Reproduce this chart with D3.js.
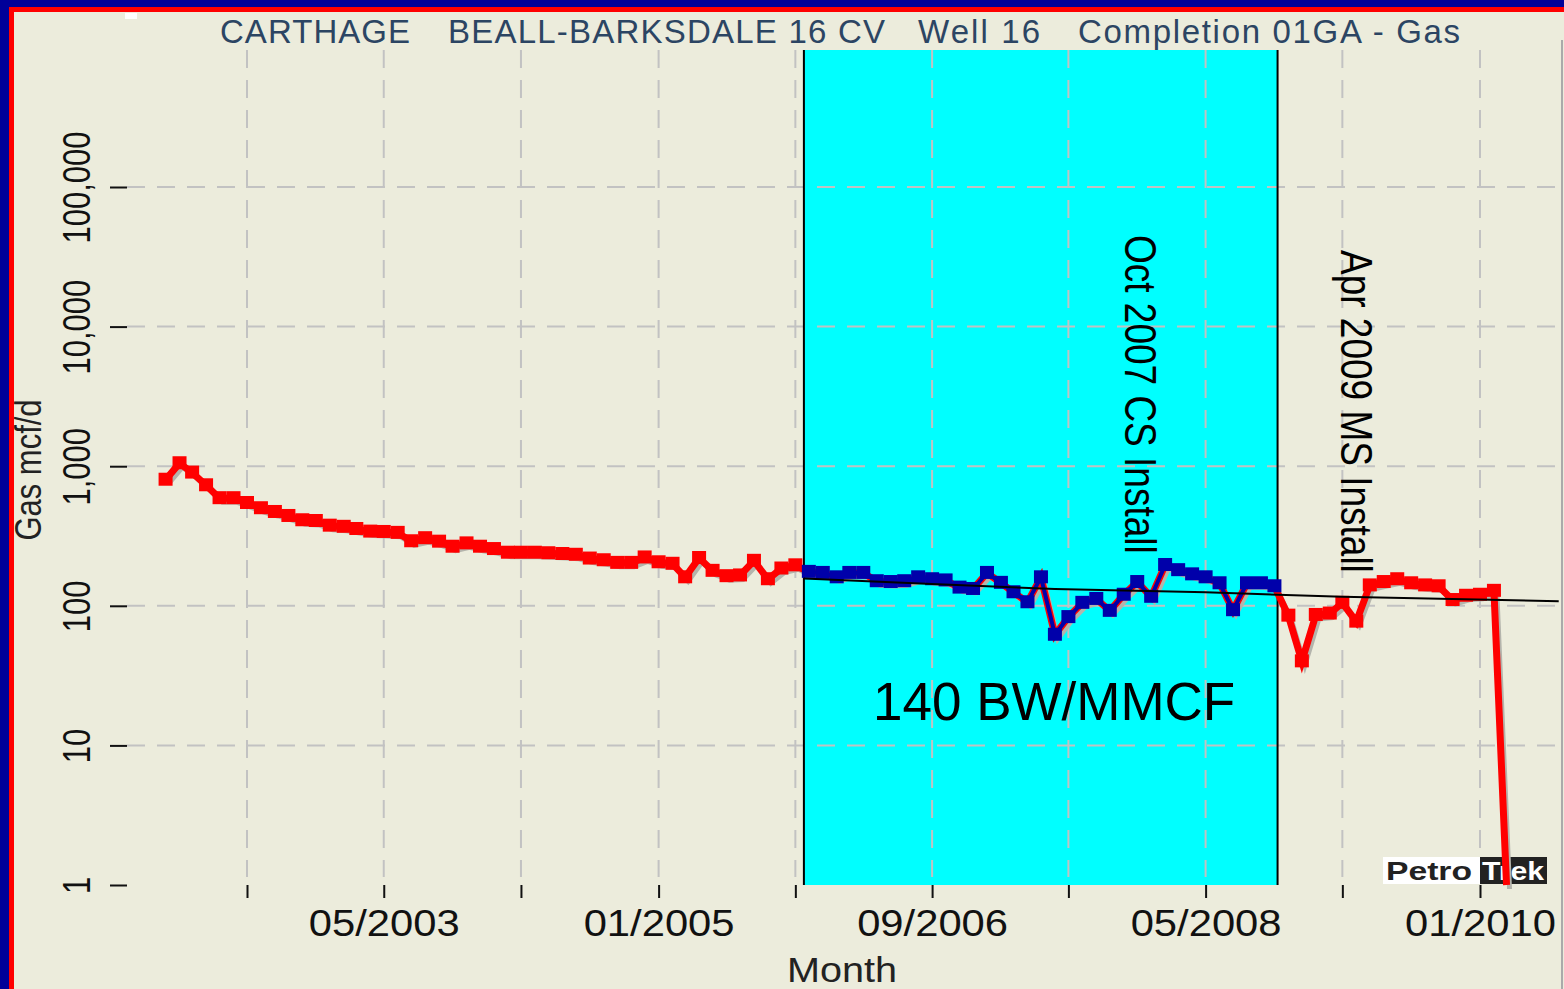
<!DOCTYPE html>
<html>
<head>
<meta charset="utf-8">
<script src="https://cdn.jsdelivr.net/npm/d3@7"></script>
<style>
  body { margin: 0; background: #ececdc; overflow: hidden; }
  svg text { font-family: "Liberation Sans", Arial, sans-serif; }
</style>
</head>
<body>
<script>
// data ______________________________________________________________________
var firstMonth = "2002-01";
// gas rate, mcf/d, one value a month from 01/2002
var gasRate = [800, 1050, 900, 730, 590, 590, 545, 500, 470, 440,
               410, 405, 375, 368, 355, 340, 338, 333, 290, 305,
               288, 265, 280, 265, 255, 240, 240, 240, 238, 235,
               232, 218, 212, 203, 203, 222, 205, 200, 160, 220,
               178, 163, 165, 210, 155, 185, 195, 175, 172, 160,
               172, 172, 150, 148, 150, 160, 155, 152, 135, 132,
               172, 146, 125, 106, 160, 62, 83, 105, 112, 92,
               120, 148, 116, 196, 180, 168, 160, 145, 93, 145,
               145, 138, 85, 40, 86, 88, 105, 77, 140, 148,
               155, 145, 140, 138, 110, 118, 120, 128, 1];

// shaded period
var bandStart = "2005-11-20";
var bandEnd = "2008-10-08";

// decline trend
var trendDates = ["2005-11-20", "2006-09-01", "2007-06-01", "2008-05-01", "2009-03-01", "2010-06-25"];
var trendRate = [157, 143, 132, 125, 116, 108];

var xTicks = ["2002-07", "2003-05", "2004-03", "2005-01", "2005-11", "2006-09", "2007-07", "2008-05", "2009-03", "2010-01"];
var xLabelled = ["2003-05", "2005-01", "2006-09", "2008-05", "2010-01"];
var yTicks = [1, 10, 100, 1000, 10000, 100000];

var titleParts = ["CARTHAGE", "BEALL-BARKSDALE 16 CV", "Well 16", "Completion 01GA - Gas"];
var notes = ["Oct 2007 CS Install", "Apr 2009 MS Install"];

// layout ____________________________________________________________________
var W = 1564, H = 989;
var plot = {left: 127, right: 1560, top: 50, bottom: 885};

var parseM = d3.timeParse("%Y-%m");
var parseD = d3.timeParse("%Y-%m-%d");
var start = parseM(firstMonth);

var data = gasRate.map(function (v, i) {
    return {date: d3.timeMonth.offset(start, i), value: v};
});
var bs = parseD(bandStart), be = parseD(bandEnd);
var trend = trendDates.map(function (d, i) { return {date: parseD(d), value: trendRate[i]}; });

var svg = d3.select("body").append("svg")
    .attr("width", W)
    .attr("height", H);

svg.append("rect").attr("width", W).attr("height", H).attr("fill", "#ececdc");

// scales
var x = d3.scaleTime()
    .domain([parseM("2002-07"), parseM("2010-01")])
    .range([247, 1480]);

var y = d3.scaleLog()
    .domain([1, 100000])
    .range([plot.bottom, 187]);

// shaded band
svg.append("rect")
    .attr("x", x(bs))
    .attr("y", plot.top)
    .attr("width", x(be) - x(bs))
    .attr("height", plot.bottom - plot.top)
    .attr("fill", "#00ffff");

// grid
var grid = svg.append("g")
    .attr("stroke", "#c2c2c2")
    .attr("stroke-width", 2)
    .attr("stroke-dasharray", "18,12");

grid.selectAll("line.h").data(yTicks.filter(function (d) { return d > 1; }))
    .enter().append("line")
    .attr("x1", plot.left).attr("x2", plot.right)
    .attr("y1", function (d) { return y(d); })
    .attr("y2", function (d) { return y(d); });

grid.selectAll("line.v").data(xTicks)
    .enter().append("line")
    .attr("x1", function (d) { return x(parseM(d)); })
    .attr("x2", function (d) { return x(parseM(d)); })
    .attr("y1", plot.top).attr("y2", plot.bottom - 8);

// band edges
svg.selectAll("line.edge").data([bs, be])
    .enter().append("line")
    .attr("x1", function (d) { return x(d); })
    .attr("x2", function (d) { return x(d); })
    .attr("y1", plot.top).attr("y2", plot.bottom)
    .attr("stroke", "#000").attr("stroke-width", 2);

// y axis
var yAxis = d3.axisLeft(y)
    .tickValues(yTicks)
    .tickSize(17)
    .tickPadding(0)
    .tickFormat(d3.format(","));

var gy = svg.append("g")
    .attr("transform", "translate(" + plot.left + ",0)")
    .call(yAxis);
gy.select(".domain").remove();
gy.selectAll("line").attr("stroke", "#111").attr("stroke-width", 2);
gy.selectAll("text")
    .attr("x", null).attr("dy", "0.35em")
    .attr("text-anchor", "middle")
    .attr("font-size", 31)
    .attr("fill", "#111")
    .attr("transform", "translate(-51,0) scale(1.25,1) rotate(-90)");

svg.append("text")
    .attr("transform", "translate(28,470) scale(1.2,1) rotate(-90)")
    .attr("dy", "0.35em")
    .attr("text-anchor", "middle")
    .attr("font-size", 31)
    .attr("fill", "#222")
    .text("Gas mcf/d");

// x axis
var fmt = d3.timeFormat("%m/%Y");
var xAxis = d3.axisBottom(x)
    .tickValues(xTicks.map(parseM))
    .tickSize(13)
    .tickFormat(function (d) {
        return xLabelled.indexOf(d3.timeFormat("%Y-%m")(d)) >= 0 ? fmt(d) : "";
    });

var gx = svg.append("g")
    .attr("transform", "translate(0," + plot.bottom + ")")
    .call(xAxis);
gx.select(".domain").remove();
gx.selectAll("line").attr("stroke", "#111").attr("stroke-width", 2);
gx.selectAll("text")
    .attr("y", 51).attr("dy", null)
    .attr("font-size", 36)
    .attr("fill", "#111")
    .attr("transform", "scale(1.16,1)");

svg.append("text")
    .attr("transform", "translate(842,982) scale(1.1,1)")
    .attr("text-anchor", "middle")
    .attr("font-size", 36)
    .attr("fill", "#222")
    .text("Month");

// logo
var logo = svg.append("g").attr("transform", "translate(1383,857)");
logo.append("rect").attr("width", 97).attr("height", 27).attr("fill", "#fff");
logo.append("rect").attr("x", 97).attr("width", 67).attr("height", 27).attr("fill", "#222");
logo.append("text").attr("x", 3).attr("y", 23).attr("font-size", 26).attr("font-weight", "bold")
    .attr("textLength", 86).attr("lengthAdjust", "spacingAndGlyphs")
    .attr("fill", "#222").text("Petro");
logo.append("text").attr("x", 99).attr("y", 23).attr("font-size", 26).attr("font-weight", "bold")
    .attr("textLength", 62).attr("lengthAdjust", "spacingAndGlyphs")
    .attr("fill", "#fff").text("Trek");

// series
var line = d3.line()
    .x(function (d) { return x(d.date); })
    .y(function (d) { return y(d.value); });

svg.append("path")
    .datum(data)
    .attr("d", line)
    .attr("transform", "translate(3,4)")
    .attr("fill", "none")
    .attr("stroke", "#b4b4ac")
    .attr("stroke-width", 5);

svg.append("path")
    .datum(data)
    .attr("d", line)
    .attr("fill", "none")
    .attr("stroke", "#ff0000")
    .attr("stroke-width", 7);

var inBand = function (d) { return d.date >= bs && d.date <= be; };

svg.selectAll("rect.red").data(data.filter(function (d) { return !inBand(d) && d.value > 1; }))
    .enter().append("rect")
    .attr("x", function (d) { return x(d.date) - 7; })
    .attr("y", function (d) { return y(d.value) - 7; })
    .attr("width", 14).attr("height", 13)
    .attr("fill", "#ff0000");

var blue = data.filter(inBand);
svg.append("path")
    .datum(blue)
    .attr("d", line)
    .attr("fill", "none")
    .attr("stroke", "#0000aa")
    .attr("stroke-width", 4);

svg.selectAll("rect.blue").data(blue)
    .enter().append("rect")
    .attr("x", function (d) { return x(d.date) - 7; })
    .attr("y", function (d) { return y(d.value) - 7; })
    .attr("width", 14).attr("height", 13)
    .attr("fill", "#0000aa");

// trend
svg.append("path")
    .datum(trend)
    .attr("d", line)
    .attr("fill", "none")
    .attr("stroke", "#000")
    .attr("stroke-width", 2);

// annotations
svg.append("text")
    .attr("x", 873).attr("y", 720)
    .attr("font-size", 53)
    .attr("fill", "#000")
    .text("140 BW/MMCF");

svg.selectAll("text.note").data(notes)
    .enter().append("text")
    .attr("transform", function (d, i) {
        return i === 0 ? "translate(1141,235) scale(1.2,1) rotate(90)"
                       : "translate(1357,250) scale(1.2,1) rotate(90)";
    })
    .attr("dy", "0.35em")
    .attr("font-size", 37)
    .attr("fill", "#000")
    .text(function (d) { return d; });

// title
var titleX = [220, 448, 918, 1078];
var titleLen = [190, 437, 122, 382];
svg.selectAll("text.title").data(titleParts)
    .enter().append("text")
    .attr("x", function (d, i) { return titleX[i]; })
    .attr("y", 43)
    .attr("font-size", 33)
    .attr("fill", "#2c4563")
    .attr("textLength", function (d, i) { return titleLen[i]; })
    .attr("lengthAdjust", "spacing")
    .text(function (d) { return d; });

// frame
svg.append("rect").attr("width", W).attr("height", 7).attr("fill", "#000099");
svg.append("rect").attr("width", 9).attr("height", H).attr("fill", "#000099");
svg.append("rect").attr("x", 9).attr("y", 7).attr("width", W - 9).attr("height", 5).attr("fill", "#ff0000");
svg.append("rect").attr("x", 9).attr("y", 7).attr("width", 5).attr("height", H - 7).attr("fill", "#ff0000");
svg.append("rect").attr("x", 125).attr("y", 13).attr("width", 12).attr("height", 6).attr("fill", "#fff");
svg.append("line").attr("x1", 1562).attr("x2", 1562).attr("y1", 40).attr("y2", H)
    .attr("stroke", "#aaa").attr("stroke-width", 2);
</script>
</body>
</html>
